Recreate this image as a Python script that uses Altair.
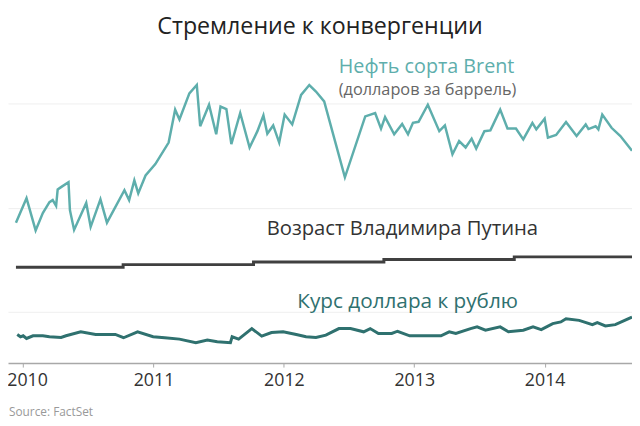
import altair as alt
import pandas as pd

# Brent oil price (USD per barrel), time in decimal years
brent_t = [2009.945, 2010.026, 2010.096, 2010.151, 2010.202, 2010.227, 2010.253, 2010.265,
           2010.291, 2010.348, 2010.359, 2010.391, 2010.484, 2010.518, 2010.593, 2010.643,
           2010.777, 2010.813, 2010.853, 2010.883, 2010.939, 2011.014, 2011.116, 2011.166,
           2011.199, 2011.275, 2011.332, 2011.358, 2011.426, 2011.481, 2011.514, 2011.559,
           2011.597, 2011.665, 2011.737, 2011.797, 2011.843, 2011.873, 2011.918, 2011.964,
           2012.006, 2012.064, 2012.132, 2012.195, 2012.246, 2012.309, 2012.468, 2012.624,
           2012.700, 2012.745, 2012.776, 2012.846, 2012.907, 2012.952, 2012.990, 2013.033,
           2013.104, 2013.192, 2013.235, 2013.293, 2013.344, 2013.394, 2013.440, 2013.475,
           2013.538, 2013.584, 2013.659, 2013.715, 2013.780, 2013.836, 2013.906, 2013.936,
           2014.000, 2014.025, 2014.088, 2014.164, 2014.245, 2014.315, 2014.336, 2014.391,
           2014.412, 2014.442, 2014.513, 2014.581, 2014.670]
brent_v = [74.2, 83.6, 71.2, 77.9, 82.1, 82.9, 80.7, 87.0,
           87.9, 89.8, 79.0, 71.4, 81.8, 72.6, 83.2, 74.2,
           86.7, 82.9, 90.5, 85.5, 92.4, 96.8, 105.1, 117.8,
           114.0, 124.1, 127.3, 111.4, 119.7, 108.3, 119.0, 118.0,
           104.5, 116.5, 103.2, 109.5, 115.6, 108.5, 111.7, 105.1,
           115.9, 112.1, 123.5, 127.3, 124.8, 121.0, 91.7, 115.2,
           116.5, 110.5, 114.9, 108.3, 112.3, 108.3, 112.7, 113.1,
           119.7, 109.5, 111.7, 100.6, 105.7, 103.2, 106.6, 102.8,
           109.5, 109.8, 117.8, 110.5, 110.5, 106.3, 112.7, 110.2,
           114.3, 107.0, 108.0, 113.0, 107.6, 112.1, 110.3, 111.4,
           110.2, 115.9, 110.8, 107.6, 101.9]

# USD/RUB exchange rate
rub_t = [2009.955, 2009.980, 2010.000, 2010.026, 2010.076, 2010.151, 2010.202, 2010.291,
         2010.329, 2010.442, 2010.556, 2010.707, 2010.770, 2010.878, 2010.997, 2011.086,
         2011.199, 2011.325, 2011.413, 2011.489, 2011.590, 2011.603, 2011.653, 2011.754,
         2011.830, 2011.905, 2011.994, 2012.095, 2012.170, 2012.246, 2012.322, 2012.422,
         2012.511, 2012.612, 2012.662, 2012.725, 2012.827, 2012.872, 2012.965, 2013.205,
         2013.268, 2013.319, 2013.432, 2013.482, 2013.546, 2013.659, 2013.722, 2013.836,
         2013.911, 2013.974, 2014.062, 2014.124, 2014.164, 2014.265, 2014.366, 2014.404,
         2014.466, 2014.542, 2014.631, 2014.670]
rub_v = [31.05, 30.17, 30.55, 29.52, 30.55, 30.55, 30.17, 29.90,
         30.55, 32.08, 31.05, 31.05, 29.79, 32.08, 30.17, 29.79,
         29.26, 27.89, 28.88, 28.27, 27.89, 30.17, 29.26, 33.33,
         30.40, 31.81, 32.08, 31.05, 30.17, 29.90, 30.78, 33.33,
         33.33, 32.08, 33.33, 31.43, 31.43, 32.30, 30.55, 30.55,
         32.08, 31.43, 33.33, 33.98, 32.69, 33.98, 32.08, 32.69,
         33.98, 32.95, 35.24, 35.89, 37.14, 36.50, 34.86, 35.62,
         34.36, 34.86, 36.88, 37.79]

# Putin's age (years)
age_t = [2009.945, 2010.767, 2011.767, 2012.767, 2013.767, 2014.670]
age_v = [57, 58, 59, 60, 61, 61]

years = [2010, 2011, 2012, 2013, 2014]

brent = pd.DataFrame({"t": brent_t, "v": brent_v})
rub = pd.DataFrame({"t": rub_t, "v": rub_v})
age = pd.DataFrame({"t": age_t, "v": age_v})

FONT = "Open Sans"
xs = alt.Scale(domain=[2009.884, 2014.670], nice=False, zero=False)
ys = alt.Scale(domain=[20, 140], nice=False, zero=False)

xenc = alt.X("t:Q", scale=xs, title=None,
             axis=alt.Axis(values=years, format="d", grid=False, domainColor="#a8a8a8",
                           domainWidth=1.5, tickColor="#a8a8a8", tickSize=4,
                           labelFontSize=18, labelColor="#333333", labelFont=FONT,
                           labelPadding=5,
                           labelOffset={"condition": {"test": "datum.value == 2010", "value": 4},
                                        "value": 0}))
yenc = alt.Y("v:Q", scale=ys, title=None,
             axis=alt.Axis(values=[40, 80, 120], labels=False, ticks=False, domain=False,
                           grid=True, gridColor="#efefef", gridWidth=1))

brent_line = alt.Chart(brent).mark_line(color="#5eaeac", strokeWidth=2.5).encode(x=xenc, y=yenc)
rub_line = alt.Chart(rub).mark_line(color="#2f716f", strokeWidth=3).encode(x="t:Q", y="v:Q")
age_line = alt.Chart(age).mark_line(color="#404040", strokeWidth=3,
                                    interpolate="step-after").encode(x="t:Q", y="v:Q")

def label(txt, x, y, size, color, align="left", baseline="middle"):
    return alt.Chart(pd.DataFrame({"s": [txt]})).mark_text(
        align=align, baseline=baseline, fontSize=size, color=color, font=FONT
    ).encode(x=alt.value(x), y=alt.value(y), text="s:N")

labels = [
    label("Стремление к конвергенции", 316, -37, 23.5, "#222222", align="center", baseline="top"),
    label("Нефть сорта Brent", 335, 15, 20, "#5eaeac"),
    label("(долларов за баррель)", 335, 38, 16.5, "#666666"),
    label("Возраст Владимира Путина", 262, 179, 20.5, "#333333"),
    label("Курс доллара к рублю", 293, 253, 21, "#2f716f"),
    label("Source: FactSet", 1, 365, 12, "#999999", align="left"),
]

chart = alt.layer(brent_line, age_line, rub_line, *labels).properties(
    width=632, height=315,
    autosize=alt.AutoSizeParams(type="none"),
    padding={"left": 0, "right": 0, "top": 42, "bottom": 60},
).configure_view(stroke=None)

chart.save("out.html", embed_options={"renderer": "svg", "actions": False})
